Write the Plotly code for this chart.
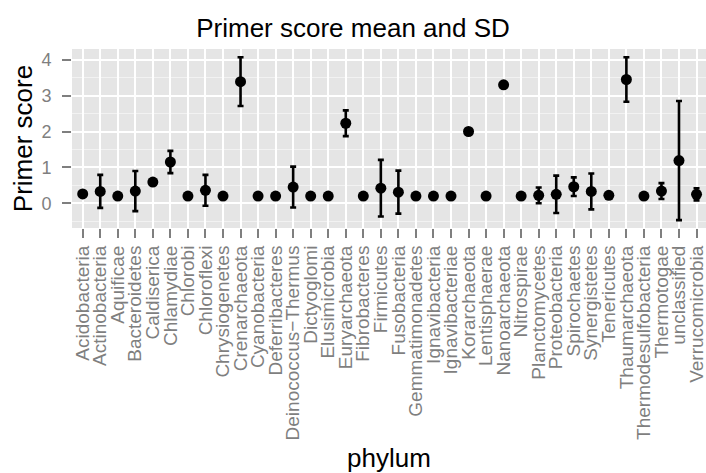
import plotly.graph_objects as go

# Phyla (x-Achse), Mittelwert und Standardabweichung der Primer-Scores
phyla = [
    "Acidobacteria", "Actinobacteria", "Aquificae", "Bacteroidetes", "Caldiserica",
    "Chlamydiae", "Chlorobi", "Chloroflexi", "Chrysiogenetes", "Crenarchaeota",
    "Cyanobacteria", "Deferribacteres", "Deinococcus\u2212Thermus", "Dictyoglomi",
    "Elusimicrobia", "Euryarchaeota", "Fibrobacteres", "Firmicutes", "Fusobacteria",
    "Gemmatimonadetes", "Ignavibacteria", "Ignavibacteriae", "Korarchaeota",
    "Lentisphaerae", "Nanoarchaeota", "Nitrospirae", "Planctomycetes", "Proteobacteria",
    "Spirochaetes", "Synergistetes", "Tenericutes", "Thaumarchaeota",
    "Thermodesulfobacteria", "Thermotogae", "unclassified", "Verrucomicrobia",
]
score_mean = [
    0.26, 0.33, 0.20, 0.34, 0.59,
    1.15, 0.20, 0.36, 0.20, 3.39,
    0.20, 0.20, 0.45, 0.20,
    0.20, 2.23, 0.20, 0.42, 0.31,
    0.20, 0.20, 0.20, 2.00,
    0.20, 3.30, 0.20, 0.22, 0.25,
    0.46, 0.33, 0.22, 3.45,
    0.20, 0.34, 1.19, 0.25,
]
score_sd = [
    0.0, 0.46, 0.0, 0.56, 0.0,
    0.31, 0.0, 0.43, 0.0, 0.68,
    0.0, 0.0, 0.57, 0.0,
    0.0, 0.36, 0.0, 0.79, 0.60,
    0.0, 0.0, 0.0, 0.0,
    0.0, 0.0, 0.0, 0.22, 0.52,
    0.26, 0.50, 0.0, 0.62,
    0.0, 0.22, 1.66, 0.17,
]
y_ticks = [0, 1, 2, 3, 4]

FONT = "Liberation Sans, Arial, sans-serif"
GREY = "#7F7F7F"

fig = go.Figure()
fig.add_trace(go.Scatter(
    x=phyla,
    y=score_mean,
    mode="markers",
    marker=dict(color="black", size=11),
    error_y=dict(type="data", array=score_sd, visible=True,
                 color="black", thickness=2.6, width=3),
    showlegend=False,
))

fig.update_layout(
    width=706, height=473,
    margin=dict(l=72, r=0, t=49, b=245, autoexpand=False),
    paper_bgcolor="white",
    plot_bgcolor="#E5E5E5",
    font=dict(family=FONT, color="black"),
    title=dict(text="Primer score mean and SD", x=0.5, xref="container",
               xanchor="center", y=0.94, yref="container", yanchor="middle",
               font=dict(size=26, color="black")),
)

fig.update_xaxes(
    type="category",
    range=[-0.61, 35.54],
    tickmode="array", tickvals=phyla, ticktext=phyla,
    tickangle=-90,
    tickfont=dict(size=19, color=GREY),
    ticks="outside", ticklen=9, tickwidth=2, tickcolor=GREY,
    showgrid=True, gridcolor="white", gridwidth=1.8,
    zeroline=False, showline=False, automargin=False,
    title=dict(text="phylum", font=dict(size=26), standoff=18),
)

fig.update_yaxes(
    range=[-0.69, 4.3],
    tickvals=y_ticks,
    tickfont=dict(size=18, color=GREY),
    ticks="outside", ticklen=9, tickwidth=2, tickcolor=GREY,
    ticklabelstandoff=7,
    showgrid=True, gridcolor="white", gridwidth=1.8,
    minor=dict(dtick=0.5, tick0=0, showgrid=True, gridcolor="#F2F2F2",
               gridwidth=0.9, ticks=""),
    zeroline=False, showline=False, automargin=False,
    title=dict(text="Primer score", font=dict(size=26), standoff=1),
)

# Browser-Standardrand des body entfernen, damit die Figur bei (0, 0) beginnt
fig.write_html("out.html", config={"displayModeBar": False},
               post_script="document.body.style.margin = '0';")
